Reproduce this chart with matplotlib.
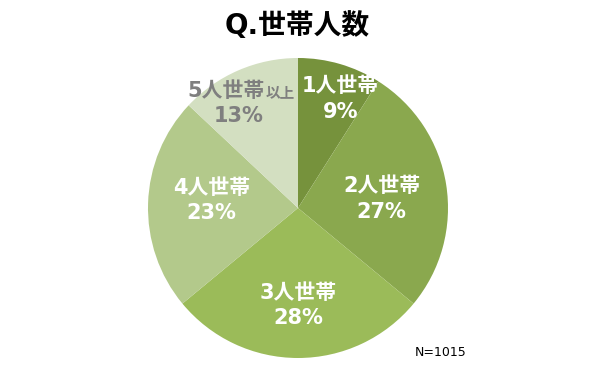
import numpy as np
import matplotlib
matplotlib.use("Agg")
import matplotlib.pyplot as plt

plt.rcParams['font.family'] = ['DejaVu Sans', 'Noto Sans CJK JP']

categories = ["1人世帯", "2人世帯", "3人世帯", "4人世帯", "5人世帯"]
suffixes = ["", "", "", "", "以上"]
values = [9, 27, 28, 23, 13]
colors = ["#76923c", "#8aa84e", "#9bbb59", "#b3c98b", "#d3dfc1"]
text_colors = ["white", "white", "white", "white", "#7f7f7f"]
title = "Q.世帯人数"
note = "N=1015"

# label placement (radius fraction, angle offset deg)
label_r = [0.78, 0.56, 0.65, 0.58, 0.80]
label_da = [-5, -3, 0, -3, 6]

fig = plt.figure(figsize=(5.95, 3.67), dpi=100)
ax = fig.add_axes([148/595, 9/367, 300/595, 300/367])
wedges, _ = ax.pie(values, colors=colors, startangle=90, counterclock=False,
                   radius=1.0, wedgeprops=dict(linewidth=0))
ax.set_xlim(-1, 1)
ax.set_ylim(-1, 1)
ax.set_aspect('equal')
ax.axis('off')

fs = 15
dy = 0.085
for i, w in enumerate(wedges):
    ang = np.deg2rad((w.theta1 + w.theta2) / 2 + label_da[i])
    x = label_r[i] * np.cos(ang)
    y = label_r[i] * np.sin(ang)
    if suffixes[i]:
        ax.text(x + 0.17, y + dy, categories[i], ha='right', va='center',
                fontsize=fs, fontweight='bold', color=text_colors[i])
        ax.text(x + 0.175, y + dy - 0.01, suffixes[i], ha='left', va='center',
                fontsize=10.5, fontweight='bold', color=text_colors[i])
    else:
        ax.text(x, y + dy, categories[i], ha='center', va='center',
                fontsize=fs, fontweight='bold', color=text_colors[i])
    ax.text(x, y - dy, f"{values[i]}%", ha='center', va='center',
            fontsize=fs, fontweight='bold', color=text_colors[i])

fig.text(297/595, 1 - 26/367, title, ha='center', va='center',
         fontsize=20, fontweight='bold', color='black')
fig.text(441/595, 1 - 352/367, note, ha='center', va='center',
         fontsize=9, color='black')

fig.savefig("out.png", dpi=100)
